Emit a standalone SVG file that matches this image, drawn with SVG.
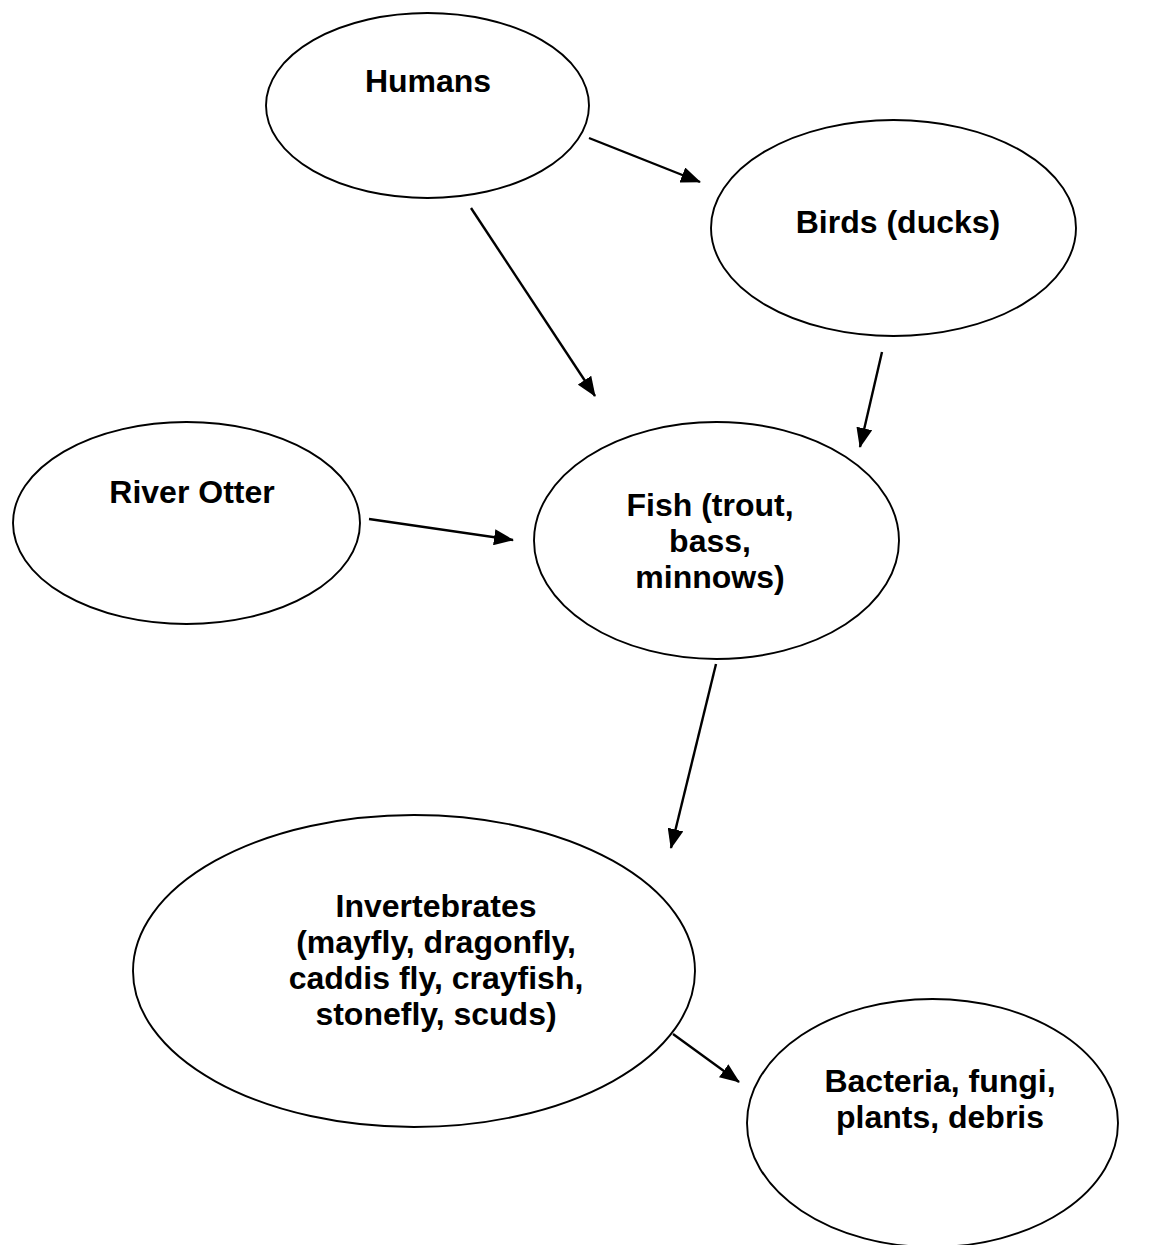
<svg xmlns="http://www.w3.org/2000/svg" width="1149" height="1245" viewBox="0 0 1149 1245">
<style>
.node ellipse{fill:#fff;stroke:#000;stroke-width:1.9}
.node text{font-family:"Liberation Sans",Arial,sans-serif;font-weight:bold;font-size:32px;fill:#000;text-anchor:middle}
.edges line{stroke:#000;stroke-width:2.4;marker-end:url(#ah)}
</style>
<defs>
<marker id="ah" markerUnits="userSpaceOnUse" markerWidth="20" markerHeight="16" refX="19" refY="8" orient="auto">
<path d="M0,0 L20,8 L0,16 Z" fill="#000"/>
</marker>
</defs>
<rect width="1149" height="1245" fill="#fff"/>
<g id="humans" class="node">
<ellipse cx="427.5" cy="105.5" rx="161.5" ry="92.5"/>
<text x="428" y="92">Humans</text>
</g>
<g id="birds" class="node">
<ellipse cx="893.5" cy="228" rx="182.5" ry="108"/>
<text x="898" y="233">Birds (ducks)</text>
</g>
<g id="otter" class="node">
<ellipse cx="186.5" cy="523" rx="173.5" ry="101"/>
<text x="192" y="503">River Otter</text>
</g>
<g id="fish" class="node">
<ellipse cx="716.5" cy="540.5" rx="182.5" ry="118.5"/>
<text x="710" y="516">Fish (trout,</text>
<text x="710" y="552">bass,</text>
<text x="710" y="588">minnows)</text>
</g>
<g id="invertebrates" class="node">
<ellipse cx="414" cy="971" rx="281" ry="156"/>
<text x="436" y="917">Invertebrates</text>
<text x="436" y="953">(mayfly, dragonfly,</text>
<text x="436" y="989">caddis fly, crayfish,</text>
<text x="436" y="1025">stonefly, scuds)</text>
</g>
<g id="bacteria" class="node">
<ellipse cx="932.5" cy="1123" rx="185.5" ry="124"/>
<text x="940" y="1092">Bacteria, fungi,</text>
<text x="940" y="1128">plants, debris</text>
</g>
<g id="connectors" class="edges">
<line x1="589" y1="138" x2="700" y2="182"/>
<line x1="471" y1="208" x2="595" y2="396"/>
<line x1="882" y1="352" x2="860" y2="447"/>
<line x1="369" y1="519" x2="513" y2="540"/>
<line x1="716" y1="664" x2="671" y2="848"/>
<line x1="673" y1="1034" x2="739" y2="1082"/>
</g>
</svg>
